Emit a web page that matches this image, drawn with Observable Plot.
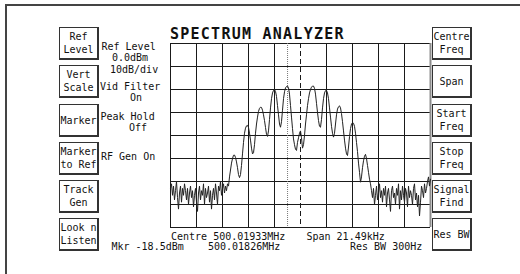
<!DOCTYPE html>
<html><head><meta charset="utf-8">
<script src="https://cdn.jsdelivr.net/npm/d3@7"></script>
<script src="https://cdn.jsdelivr.net/npm/@observablehq/plot@0.6"></script>
<style>
html,body{margin:0;padding:0;background:#fff;}
#wrap{position:relative;width:520px;height:274px;overflow:hidden;font-family:"DejaVu Sans Mono",monospace;font-size:10px;color:#111;}
#frameT{position:absolute;left:5px;top:4px;width:515px;height:2px;background:#444;}
#frameL{position:absolute;left:5px;top:4px;width:2px;height:270px;background:#444;}
.btn{position:absolute;box-sizing:border-box;width:40px;height:33px;border:1px solid #333;border-right-width:2px;border-bottom-width:2px;display:flex;align-items:center;justify-content:center;text-align:center;line-height:13px;white-space:pre;background:#fff;}
.t{position:absolute;white-space:pre;line-height:10px;}
#title{position:absolute;left:170px;top:26.5px;font-size:15px;line-height:15px;font-weight:bold;letter-spacing:1.25px;white-space:pre;}
svg{position:absolute;left:0;top:0;}
</style></head>
<body>
<div id="wrap">
  <div id="frameT"></div><div id="frameL"></div>
  <div id="title">SPECTRUM ANALYZER</div>
</div>
<script>
// Sweep settings (from the screen annotations)
const centreMHz = 500.01933;
const spanKHz = 21.49;
const markerMHz = 500.01826;
const markerDbm = -18.5;
const refLevelDbm = 0.0;
const dbPerDiv = 10;
const vertDivs = 8;
const horizDivs = 10;

// Trace levels (dBm), one per sweep point, left to right across the span
const traceDb = [
  -63,-61,-66,-62,-68,-64,-60,-67,-72,-65,
  -62,-69,-63,-66,-61,-64,-68,-63,-70,-65,
  -62,-67,-64,-71,-66,-63,-69,-73,-65,-62,
  -68,-64,-66,-61,-70,-63,-67,-65,-62,-69,
  -64,-72,-66,-63,-68,-61,-65,-70,-62,-64,
  -60,-66,-63,-61,-65,-62,-64,-61,
  -62,-58,-55,-52,-50,-48.6,-48.5,-49.5,-51.5,-54,
  -57,-58.3,-57,-53,-48,-43,-39,-36.8,-35.8,-35.6,
  -36.5,-39,-42,-45.5,-48,-47.5,-44,-39,-35,-32,
  -29.5,-28.2,-27.7,-27.8,-29,-31,-33.5,-36.5,-39.5,-40.4,
  -38,-33,-28,-24,-21.5,-20.4,-20.1,-20.8,-23,-27,
  -31,-35,-36.4,-34,-29,-24,-21,-19.3,-18.7,-18.5,
  -19.3,-22,-27,-32,-37,-41.5,-44,-46,-46.5,-43,
  -41,-39,-38,-41,-45.5,-44,-40,-35,-31,-27,
  -24,-21.5,-20,-19,-18.5,-18.5,-19.5,-22,-26,-30,
  -33.5,-36,-36.4,-33,-28,-24,-21.5,-20.5,-20.4,-21.5,
  -24,-28,-32,-36,-39,-40.7,-39,-35,-31,-28.5,
  -27.5,-27.1,-28,-30.5,-34,-38,-42,-45.5,-48,-48.7,
  -45,-40.5,-37,-35,-34.5,-34.7,-36,-39,-43,-47,
  -52,-56,-60.3,-58,-54,-51,-49,-48.2,-50,-53,
  -56,-59,
  -61,-64,-67,-63,-70,-66,-62,-68,-65,-61,
  -67,-64,-69,-63,-66,-62,-71,-65,-63,-68,
  -73,-64,-62,-67,-65,-70,-63,-66,-61,-72,
  -64,-68,-62,-66,-69,-63,-65,-71,-62,-67,
  -64,-66,-70,-63,-61,-68,-65,-71,-66,-75,
  -69,-62,-64,-67,-61,-65,-63,-60,-58,-62,-59
];

// Soft-key labels and status texts
const leftKeys = ["Ref\nLevel","Vert\nScale","Marker","Marker\nto Ref","Track\nGen","Look n\nListen"];
const rightKeys = ["Centre\nFreq","Span","Start\nFreq","Stop\nFreq","Signal\nFind","Res BW"];
const keyTops = [27,65,104,142,180,218];
const statusTexts = [
  ["Ref Level",101.5,41.5],["0.0dBm",112,53],["10dB/div",110,65],
  ["Vid Filter",100,82],["On",130,93],["Peak Hold",100.5,111.5],["Off",129,122.5],
  ["RF Gen On",101,151.5],
  ["Centre 500.01933MHz",171,231.5],["Span 21.49kHz",306.5,231.5],
  ["Mkr -18.5dBm",111.5,241.5],["500.01826MHz",208,241.5],["Res BW 300Hz",350,241.5]
];

const wrap = document.getElementById("wrap");
const n = traceDb.length;
const trace = traceDb.map((db, i) => ({f: -spanKHz/2 + i*spanKHz/(n-1), db}));
const divKHz = spanKHz / horizDivs;
const vLines = d3.range(horizDivs + 1).map(i => -spanKHz/2 + i*divKHz);
const solidV = vLines.filter((v, i) => i !== horizDivs/2 && i !== horizDivs);
const hLines = d3.range(vertDivs + 1).map(i => refLevelDbm - i*dbPerDiv);
const markerKHz = (markerMHz - centreMHz) * 1000;

const chart = Plot.plot({
  width: 520, height: 274,
  marginLeft: 170, marginRight: 90, marginTop: 43, marginBottom: 47,
  x: {domain: [-spanKHz/2, spanKHz/2], axis: null},
  y: {domain: [refLevelDbm - vertDivs*dbPerDiv, refLevelDbm], axis: null},
  style: {background: "transparent", overflow: "visible"},
  marks: [
    Plot.ruleY(hLines, {stroke: "#1a1a1a", strokeWidth: 1}),
    Plot.ruleX(solidV, {stroke: "#1a1a1a", strokeWidth: 1}),
    Plot.ruleX([0], {stroke: "#1a1a1a", strokeDasharray: "5,3"}),
    Plot.ruleX([spanKHz/2], {stroke: "#8c8c8c", strokeWidth: 2}),
    Plot.ruleX([markerKHz], {stroke: "#777", strokeDasharray: "1,1"}),
    Plot.line(trace, {x: "f", y: "db", stroke: "#222", strokeWidth: 1})
  ]
});
wrap.insertBefore(chart, wrap.firstChild);

leftKeys.forEach((k, i) => {
  const d = document.createElement("div");
  d.className = "btn"; d.textContent = k;
  d.style.left = "59px"; d.style.top = keyTops[i] + "px";
  wrap.appendChild(d);
});
rightKeys.forEach((k, i) => {
  const d = document.createElement("div");
  d.className = "btn"; d.textContent = k;
  d.style.left = "432px"; d.style.top = keyTops[i] + "px";
  wrap.appendChild(d);
});
statusTexts.forEach(([s, x, y]) => {
  const d = document.createElement("div");
  d.className = "t"; d.textContent = s;
  d.style.left = x + "px"; d.style.top = y + "px";
  wrap.appendChild(d);
});
</script>
</body></html>
